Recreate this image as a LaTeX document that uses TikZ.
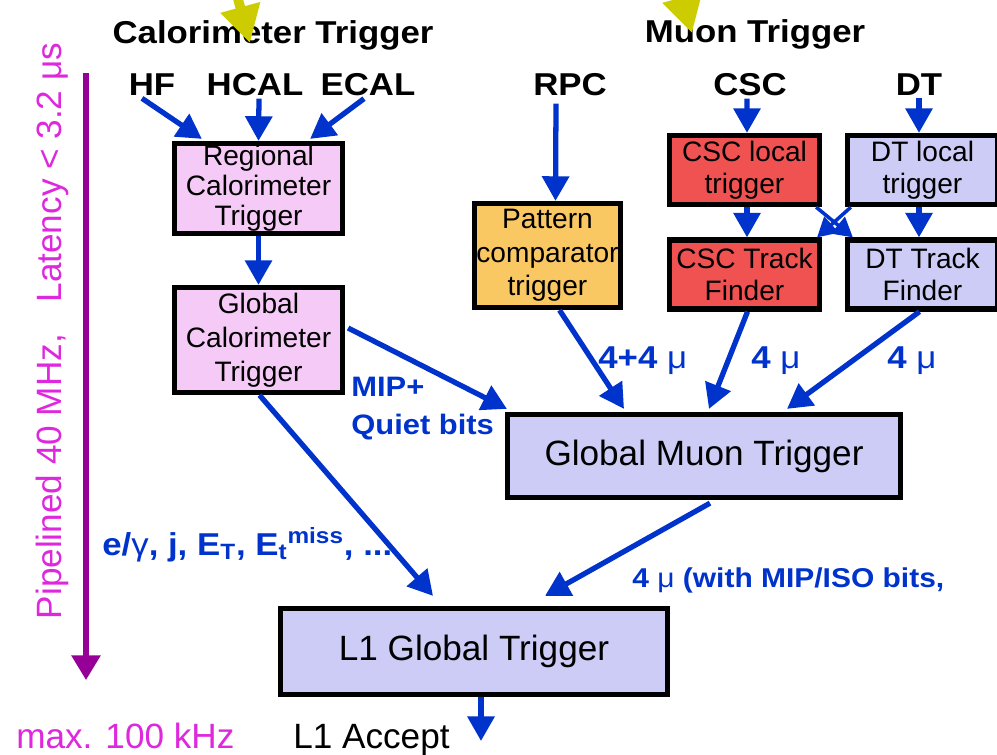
\documentclass[tikz,border=0pt]{standalone}
\usepackage{fontspec}
\setmainfont{Liberation Sans}
\newfontfamily\wideface[FakeStretch=1.1]{Liberation Sans}
\usepackage{xcolor}
\usetikzlibrary{arrows.meta, positioning, calc}

\definecolor{flowblue}{RGB}{0,51,204}
\definecolor{calpink}{RGB}{246,202,246}
\definecolor{pacorange}{RGB}{250,200,98}
\definecolor{cscred}{RGB}{240,82,82}
\definecolor{muonlilac}{RGB}{204,204,246}
\definecolor{latmagenta}{RGB}{222,40,222}
\definecolor{latpurple}{RGB}{150,0,150}
\definecolor{hintyellow}{RGB}{204,204,0}

\begin{document}
\begin{tikzpicture}[
    x=0.02cm, y=-0.02cm,
    title/.style={font=\wideface\bfseries\fontsize{18}{22}\selectfont, inner sep=0pt, anchor=base},
    box/.style={draw=black, line width=3pt, inner sep=0pt, align=center, font=\fontsize{16}{18.5}\selectfont},
    bigbox/.style={box, fill=muonlilac, font=\fontsize{20}{24}\selectfont},
    flow/.style={-{Triangle[width=15pt,length=14pt]}, line width=3pt, draw=flowblue},
    xflow/.style={-{Triangle[width=12pt,length=11pt]}, line width=2pt, draw=flowblue},
    lbl/.style={text=flowblue, inner sep=0pt, anchor=base west, align=left},
    hint/.style={-{Triangle[width=22pt,length=21pt]}, line width=5.5pt, draw=hintyellow},
    rate/.style={font=\fontsize{20}{24}\selectfont, inner sep=0pt, anchor=base west},
    timeline/.style={-{Triangle[width=16pt,length=14pt]}, line width=3pt, draw=latpurple}
]
\useasboundingbox (0,0) rectangle (997,754);
\clip (0,0) rectangle (997,754);
\fill[white] (0,0) rectangle (997,754);

% ---- titles and sources ----
\node[title] (caltitle) at (273,43) {Calorimeter Trigger};
\node[title] (muontitle) at (755,42) {Muon Trigger};
\foreach \nm/\x/\txt in {hf/152/HF, hcal/255/HCAL, ecal/368/ECAL, rpc/570/RPC, csc/750/CSC, dt/919/DT}
    \node[title] (\nm) at (\x,95) {\txt};

% ---- calorimeter boxes ----
\node[box, fill=calpink, minimum width=3.36cm, minimum height=1.8cm, font=\fontsize{16}{17}\selectfont]
    (rct) at (258.5,188.5) {Regional\\Calorimeter\\Trigger};
\node[box, fill=calpink, minimum width=3.36cm, minimum height=2.1cm, font=\fontsize{16}{19.5}\selectfont]
    (gct) at (258.5,340) {Global\\Calorimeter\\Trigger};

% ---- muon boxes ----
\node[box, fill=pacorange, minimum width=2.92cm, minimum height=2.08cm, font=\fontsize{16}{19}\selectfont]
    (pct) at (547.5,255.5) {Pattern\\comparator\\trigger};
\node[box, fill=cscred, minimum width=3cm, minimum height=1.38cm] (cscl) at (744.5,170) {CSC local\\trigger};
\node[box, fill=muonlilac, minimum width=3cm, minimum height=1.38cm] (dtl) at (922.5,170) {DT local\\trigger};
\node[box, fill=cscred, minimum width=3cm, minimum height=1.38cm] (csctf) at (744.5,274.5) {CSC Track\\Finder};
\node[box, fill=muonlilac, minimum width=3cm, minimum height=1.38cm] (dttf) at (922.5,274.5) {DT Track\\Finder};

% ---- global boxes ----
\node[bigbox, minimum width=7.86cm, minimum height=1.66cm] (gmt) at (704,456) {Global Muon Trigger};
\node[bigbox, minimum width=7.74cm, minimum height=1.72cm] (l1gt) at (474,651.5) {L1 Global Trigger};

% ---- calorimeter flow ----
\draw[flow] ($(hf.south)+(-10,3)$) -- ($(rct.north west)+(30,-2)$);
\draw[flow] ($(hcal.south)+(4,3)$) -- (rct.north);
\draw[flow] ($(ecal.south)+(-4,3)$) -- ($(rct.north east)+(-35,-2)$);
\draw[flow] (rct.south) -- (gct.north);

% ---- muon flow ----
\draw[flow] ($(rpc.south)+(-14,8)$) -- ($(pct.north)+(8,0)$);
\draw[flow] ($(csc.south)+(-3,3)$) -- ($(cscl.north)+(2.5,0)$);
\draw[flow] ($(dt.south)+(0,3)$) -- ($(dtl.north)+(-3.5,0)$);
\draw[flow] ($(cscl.south)+(2.5,0)$) -- ($(csctf.north)+(2.5,0)$);
\draw[flow] ($(dtl.south)+(-3.5,0)$) -- ($(dttf.north)+(-3.5,0)$);
\draw[xflow] ($(cscl.south east)+(-6,0)$) -- ($(dttf.north west)+(8,0)$);
\draw[xflow] ($(dtl.south west)+(6,0)$) -- ($(csctf.north east)+(-5,0)$);

% ---- into global muon trigger ----
\draw[flow] ($(pct.south)+(12,0)$) -- ($(gmt.north)+(-80,-3)$);
\draw[flow] ($(csctf.south)+(3,0)$) -- ($(gmt.north)+(5,-3)$);
\draw[flow] ($(dttf.south)+(-3,0)$) -- ($(gmt.north)+(83,-3)$);
\draw[flow] ($(gct.east)+(3,-12)$) -- ($(gmt.north west)+(2,-3)$);

% ---- into L1 global trigger ----
\draw[flow] ($(gct.south)+(1,0)$) -- ($(l1gt.north)+(-41,-10)$);
\draw[flow] ($(gmt.south)+(6,3)$) -- ($(l1gt.north)+(71,-10)$);
\coordinate (accept-tip) at (481,741);
\draw[flow] ($(l1gt.south)+(7,0)$) -- (accept-tip);

% ---- blue labels ----
\node[lbl, font=\wideface\bfseries\fontsize{18}{22}\selectfont] (pac-mu) at (598,368) {4+4 {\mdseries μ}};
\node[lbl, font=\wideface\bfseries\fontsize{18}{22}\selectfont] (csc-mu) at (751,368) {4 {\mdseries μ}};
\node[lbl, font=\wideface\bfseries\fontsize{18}{22}\selectfont] (dt-mu) at (887,368) {4 {\mdseries μ}};
\node[lbl, anchor=north west, font=\wideface\bfseries\fontsize{16}{21.5}\selectfont] (mipbits) at (351,377) {MIP+\\Quiet bits};
\node[lbl, font=\wideface\bfseries\fontsize{18}{21}\selectfont] (calobj) at (102,555)
    {e/{\mdseries γ}, j, E\textsubscript{T}, E\textsubscript{t}\textsuperscript{miss}, ...};
\node[lbl, font=\wideface\bfseries\fontsize{15.5}{19}\selectfont] (gmt-mu) at (632,587) {4 {\mdseries μ} (with MIP/ISO bits,};

% ---- latency and rates ----
\coordinate (lat-top) at (86,73);
\coordinate (lat-end) at (86,680);
\draw[timeline] (lat-top) -- (lat-end);
\node[rotate=90, text=latmagenta, font=\fontsize{20}{24}\selectfont, inner sep=0pt] (latency) at (52,331)
    {Pipelined 40 MHz,\hspace{0.9em}Latency < 3.2 μs};
\node[rate, text=latmagenta] (maxrate) at (16,748) {max. 100 kHz};
\node[rate] (accept) at (293,748) {L1 Accept};

% ---- yellow pointers ----
\coordinate (cal-hint) at (229,-34);
\coordinate (cal-hint-tip) at (250,43);
\coordinate (muon-hint) at (671,-44);
\coordinate (muon-hint-tip) at (692,33);
\draw[hint] (cal-hint) -- (cal-hint-tip);
\draw[hint] (muon-hint) -- (muon-hint-tip);
\end{tikzpicture}
\end{document}
